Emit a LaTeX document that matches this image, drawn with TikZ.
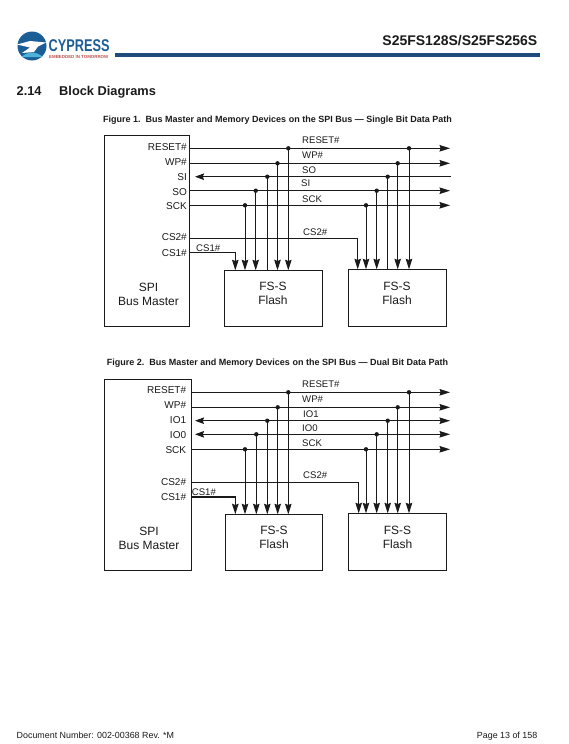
\documentclass[tikz,border=0pt]{standalone}
\usepackage{fontspec}
\setmainfont{Liberation Sans}
\usetikzlibrary{arrows.meta,positioning,calc}
\definecolor{ink}{HTML}{1A1A1A}
\definecolor{navy}{HTML}{1F4A7C}
\definecolor{logoblue}{HTML}{1B5E96}
\definecolor{logocyan}{HTML}{4FB3D9}
\definecolor{logored}{HTML}{C0504D}
\tikzset{
  unit/.style={draw=ink, line width=0.9pt, inner sep=0pt, anchor=north west, align=center},
  bus/.style={draw=ink, line width=0.9pt},
  sig/.style={bus, -{Stealth[length=10.5pt,width=6.5pt,inset=1.2pt]}},
  sigback/.style={bus, {Stealth[length=9pt,width=6.5pt,inset=1.2pt]}-},
  sigboth/.style={bus, {Stealth[length=9pt,width=6.5pt,inset=1.2pt]}-{Stealth[length=10.5pt,width=6.5pt,inset=1.2pt]}},
  tap/.style={circle, fill=ink, inner sep=0pt, minimum size=4.4pt},
  pinlabel/.style={font=\fontsize{10}{10}\selectfont, text=ink, anchor=east, inner sep=0pt},
  wirelabel/.style={font=\fontsize{9.6}{10}\selectfont, text=ink, anchor=west, inner sep=0pt},
  unitlabel/.style={font=\fontsize{12}{14}\selectfont, text=ink, inner sep=0pt, align=center},
  caption/.style={font=\fontsize{9}{10}\selectfont\bfseries, text=ink, inner sep=0pt, anchor=base},
  heading/.style={font=\fontsize{12.8}{13}\selectfont\bfseries, text=ink, inner sep=0pt, anchor=base west},
  footer/.style={font=\fontsize{8.9}{10}\selectfont, text=ink, inner sep=0pt}
}
\begin{document}
\begin{tikzpicture}[x=1pt,y=-1pt]
    \useasboundingbox (0,0) rectangle (569,744);

    % page header
    \fill[logoblue] (32,46) circle (14.5);
    \fill[logocyan] (21.5,57) arc (225:315:15) -- cycle;
    \fill[white] (17,44.5) -- (30,41) -- (46,42.5) -- (38,46.5) -- (34,52) -- (22,53) -- (30,47.5) -- cycle;
    \node[font=\fontsize{17}{17}\selectfont\bfseries, text=logoblue, anchor=west, inner sep=0pt, xscale=0.75] (logoname) at (48.5,46) {CYPRESS};
    \node[font=\fontsize{4.4}{5}\selectfont\bfseries, text=logored, anchor=west, inner sep=0pt] (logotag) at (49,57) {EMBEDDED IN TOMORROW};
    \fill[navy] (115,53) rectangle (540,57);
    \node[font=\fontsize{14}{14}\selectfont\bfseries, text=ink, anchor=east, inner sep=0pt] (title) at (537.5,41) {S25FS128S/S25FS256S};
    \node[heading] (secnum) at (16.5,95) {2.14};
    \node[heading] (sectitle) at (59,95) {Block Diagrams};
    \node[caption] (capa) at (277.5,122) {Figure 1.\ \ Bus Master and Memory Devices on the SPI Bus --- Single Bit Data Path};
    \node[caption] (capb) at (277.5,365.5) {Figure 2.\ \ Bus Master and Memory Devices on the SPI Bus --- Dual Bit Data Path};

    % figure 1
    \node[unit, minimum width=85pt, minimum height=191pt] (mastera) at (104.3,135.3) {};
    \node[unit, minimum width=97.5pt, minimum height=56pt] (flashaa) at (224.3,270.3) {};
    \node[unit, minimum width=97.5pt, minimum height=57pt] (flashab) at (348.3,269.3) {};
    \node[unitlabel] (spia) at (148.5,294.5) {SPI\\Bus Master};
    \node[unitlabel] (fsaa) at (273,293) {FS-S\\Flash};
    \node[unitlabel] (fsab) at (397,293) {FS-S\\Flash};
    \foreach \name/\yy/\txt in {a/147.3/RESET\#,b/161.7/WP\#,c/176.7/SI,d/191.7/SO,e/205.7/SCK,f/237.3/CS2\#,g/253.3/CS1\#}
      \node[pinlabel] (pina\name) at (187,\yy) {\txt};
    \foreach \name/\xx/\yy/\txt in {a/302/140.3/RESET\#,b/302/155/WP\#,c/302/170/SO,d/301/183.3/SI,e/302/199.3/SCK,f/303/231.7/CS2\#,g/196/247.7/CS1\#}
      \node[wirelabel] (wirea\name) at (\xx,\yy) {\txt};

    % right end of each line, then its two taps
    \coordinate (enda) at (450,148.3);
    \coordinate (endb) at (450,163.3);
    \coordinate (endc) at (451,176.7);
    \coordinate (endd) at (450,190.7);
    \coordinate (ende) at (450,205.3);
    \coordinate (startc) at (195,176.7);
    \draw[sig] (mastera.east |- enda) -- (enda);
    \draw[sig] (mastera.east |- endb) -- (endb);
    \draw[sigback] (startc) -- (endc);
    \draw[sig] (mastera.east |- endd) -- (endd);
    \draw[sig] (mastera.east |- ende) -- (ende);
    \foreach \xx/\ln/\fl in {288.3/a/flashaa,409/a/flashab,277.5/b/flashaa,397.7/b/flashab,255.7/d/flashaa,376.7/d/flashab,245/e/flashaa,366/e/flashab} {
      \node[tap] (tapa) at (\xx,0 |- end\ln) {};
      \draw[sig] (tapa.center) -- (tapa.center |- \fl.north);
    }
    \foreach \xx/\fl in {267.3/flashaa,387.7/flashab} {
      \node[tap] (tapa) at (\xx,0 |- endc) {};
      \draw[bus] (tapa.center) -- (tapa.center |- \fl.north);
    }
    \coordinate (csa) at (357.7,238.3);
    \coordinate (csb) at (235.3,252.3);
    \draw[sig] (mastera.east |- csa) -- (csa) -- (csa |- flashab.north);
    \draw[sig] (mastera.east |- csb) -- (csb) -- (csb |- flashaa.north);

    % figure 2
    \node[unit, minimum width=86.4pt, minimum height=191pt] (masterb) at (104.3,379.3) {};
    \node[unit, minimum width=97.3pt, minimum height=56pt] (flashba) at (225,514.3) {};
    \node[unit, minimum width=97.5pt, minimum height=57pt] (flashbb) at (348.3,513.3) {};
    \node[unitlabel] (spib) at (149,538.7) {SPI\\Bus Master};
    \node[unitlabel] (fsba) at (274,537) {FS-S\\Flash};
    \node[unitlabel] (fsbb) at (397.5,537) {FS-S\\Flash};
    \foreach \name/\yy/\txt in {a/390.3/RESET\#,b/405.3/WP\#,c/420.3/IO1,d/435.3/IO0,e/449.7/SCK,f/482/CS2\#,g/497.3/CS1\#}
      \node[pinlabel] (pinb\name) at (186.3,\yy) {\txt};
    \foreach \name/\xx/\yy/\txt in {a/302/384.3/RESET\#,b/302/399.3/WP\#,c/303/414.3/IO1,d/302/427.7/IO0,e/302/443.3/SCK,f/303/475.3/CS2\#,g/191.7/491.7/CS1\#}
      \node[wirelabel] (wireb\name) at (\xx,\yy) {\txt};

    \coordinate (enda) at (450,392.3);
    \coordinate (endb) at (450,407.3);
    \coordinate (endc) at (450,420.7);
    \coordinate (endd) at (450,434.3);
    \coordinate (ende) at (450,449.3);
    \coordinate (startc) at (195,420.7);
    \coordinate (startd) at (195,434.3);
    \draw[sig] (masterb.east |- enda) -- (enda);
    \draw[sig] (masterb.east |- endb) -- (endb);
    \draw[sigboth] (startc) -- (endc);
    \draw[sigboth] (startd) -- (endd);
    \draw[sig] (masterb.east |- ende) -- (ende);
    \foreach \xx/\ln/\fl in {288.3/a/flashba,409/a/flashbb,277.7/b/flashba,397.7/b/flashbb,267.3/c/flashba,387.7/c/flashbb,256.3/d/flashba,376.7/d/flashbb,245/e/flashba,366/e/flashbb} {
      \node[tap] (tapb) at (\xx,0 |- end\ln) {};
      \draw[sig] (tapb.center) -- (tapb.center |- \fl.north);
    }
    \coordinate (csc) at (358.7,482.3);
    \coordinate (csd) at (235.3,496.7);
    \draw[sig] (masterb.east |- csc) -- (csc) -- (csc |- flashbb.north);
    \draw[sig, line width=1.6pt] (masterb.east |- csd) -- (csd) -- (csd |- flashba.north);

    % page footer
    \node[footer, anchor=base west] (docnum) at (16.5,738) {Document Number: 002-00368 Rev. *M};
    \node[footer, anchor=base east] (pagenum) at (537.5,738) {Page 13 of 158};
  \end{tikzpicture}
\end{document}
